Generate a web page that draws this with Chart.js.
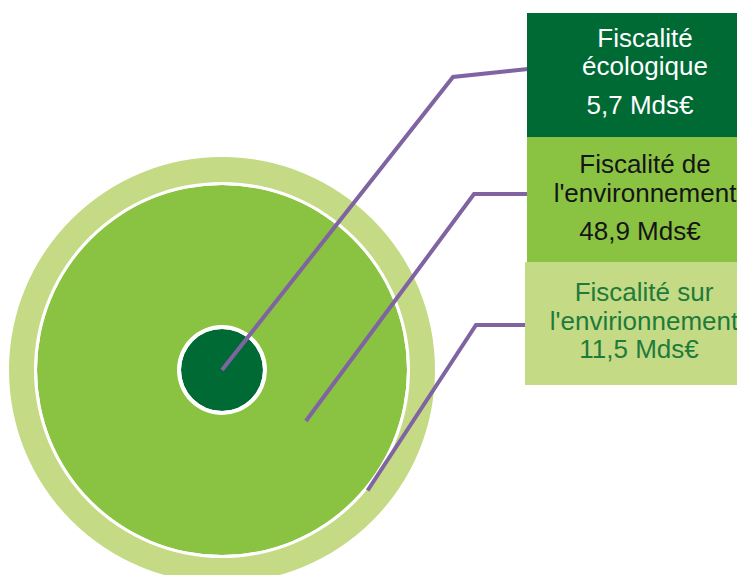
<!DOCTYPE html>
<html lang="fr">
<head>
<meta charset="utf-8">
<title>Fiscalité environnementale</title>
<script src="https://cdn.jsdelivr.net/npm/chart.js@4.4.0/dist/chart.umd.min.js"></script>
<style>
  html, body {
    margin: 0;
    padding: 0;
    width: 737px;
    height: 575px;
    overflow: hidden;
    background: #ffffff;
    font-family: "Liberation Sans", Arial, sans-serif;
  }
  #wrap {
    position: absolute;
    left: 0;
    top: 0;
    width: 737px;
    height: 740px;
  }
  .box {
    position: absolute;
    box-sizing: border-box;
    text-align: center;
    font-size: 26px;
    line-height: 28.5px;
    white-space: nowrap;
  }
  .box .value { margin-top: 10px; padding-right: 10px; }
  .box.tight .value { margin-top: 0; }
</style>
</head>
<body>
<div id="wrap"><canvas id="chart"></canvas></div>
<div id="boxes"></div>
<script>
// données (Mds€)
const categories = ['Fiscalité écologique', "Fiscalité de l'environnement", "Fiscalité sur l'envirionnement"];
const titleLines = [['Fiscalité', 'écologique'], ['Fiscalité de', "l'environnement"], ['Fiscalité sur', "l'envirionnement"]];
const values = [5.7, 48.9, 11.5];
const unit = 'Mds€';

// styles
const fillColors = ['#006A35', '#8AC342', '#C5DA85'];
const textColors = ['#FFFFFF', '#151515', '#1F7A3C'];
const boxLayout = [
  { left: 527, top: 13, height: 124, pad: 10.5, tight: false },
  { left: 527, top: 137, height: 125, pad: 13, tight: false },
  { left: 525, top: 262, height: 123, pad: 16, tight: true }
];
// ring thickness in px, outer -> inner, white gaps between
const ringWeights = { outer: 25, gap1: 3, middle: 140, gap2: 4, inner: 41 };

// leader lines: dataset index, depth in ring (0 = inner edge), angle in deg
const leaders = [
  { ring: 4, depth: 0, angle: 0, elbow: [453, 77], anchor: [528, 69] },
  { ring: 2, depth: 0.38, angle: 31.3, elbow: [474, 194], anchor: [528, 194] },
  { ring: 0, depth: 0.04, angle: 39.6, elbow: [476, 325], anchor: [528, 325] }
];

function formatValue(v) {
  return String(v).replace('.', ',') + ' ' + unit;
}

// boxes with text
const boxesEl = document.getElementById('boxes');
categories.forEach((cat, i) => {
  const b = document.createElement('div');
  const lay = boxLayout[i];
  b.className = 'box' + (lay.tight ? ' tight' : '');
  b.title = cat;
  b.style.left = lay.left + 'px';
  b.style.top = lay.top + 'px';
  b.style.width = (763 - lay.left) + 'px';
  b.style.height = lay.height + 'px';
  b.style.paddingTop = lay.pad + 'px';
  b.style.background = fillColors[i];
  b.style.color = textColors[i];
  titleLines[i].forEach((t) => {
    const d = document.createElement('div');
    d.textContent = t;
    b.appendChild(d);
  });
  const v = document.createElement('div');
  v.className = 'value';
  v.textContent = formatValue(values[i]);
  b.appendChild(v);
  boxesEl.appendChild(b);
});

const leaderPlugin = {
  id: 'leaders',
  afterDatasetsDraw(chart) {
    const ctx = chart.ctx;
    ctx.save();
    ctx.strokeStyle = '#8064A2';
    ctx.lineWidth = 4;
    ctx.lineCap = 'butt';
    ctx.lineJoin = 'miter';
    leaders.forEach((l) => {
      const arc = chart.getDatasetMeta(l.ring).data[0];
      const r = arc.innerRadius + (arc.outerRadius - arc.innerRadius) * l.depth;
      const a = l.angle * Math.PI / 180;
      ctx.beginPath();
      ctx.moveTo(l.anchor[0], l.anchor[1]);
      ctx.lineTo(l.elbow[0], l.elbow[1]);
      ctx.lineTo(arc.x + r * Math.cos(a), arc.y + r * Math.sin(a));
      ctx.stroke();
    });
    ctx.restore();
  }
};

function ring(label, value, color, weight) {
  return { label: label, data: [value], backgroundColor: color, borderWidth: 0, hoverBorderWidth: 0, weight: weight };
}

const chart = new Chart(document.getElementById('chart').getContext('2d'), {
  type: 'doughnut',
  data: {
    labels: [unit],
    datasets: [
      ring(categories[2], values[2], fillColors[2], ringWeights.outer),
      ring('', 1, '#FFFFFF', ringWeights.gap1),
      ring(categories[1], values[1], fillColors[1], ringWeights.middle),
      ring('', 1, '#FFFFFF', ringWeights.gap2),
      ring(categories[0], values[0], fillColors[0], ringWeights.inner)
    ]
  },
  options: {
    responsive: true,
    maintainAspectRatio: false,
    animation: false,
    events: [],
    cutout: 0,
    layout: { padding: { left: 9, right: 302, top: 157, bottom: 157 } },
    plugins: {
      legend: { display: false },
      tooltip: { enabled: false }
    }
  },
  plugins: [leaderPlugin]
});
</script>
</body>
</html>
